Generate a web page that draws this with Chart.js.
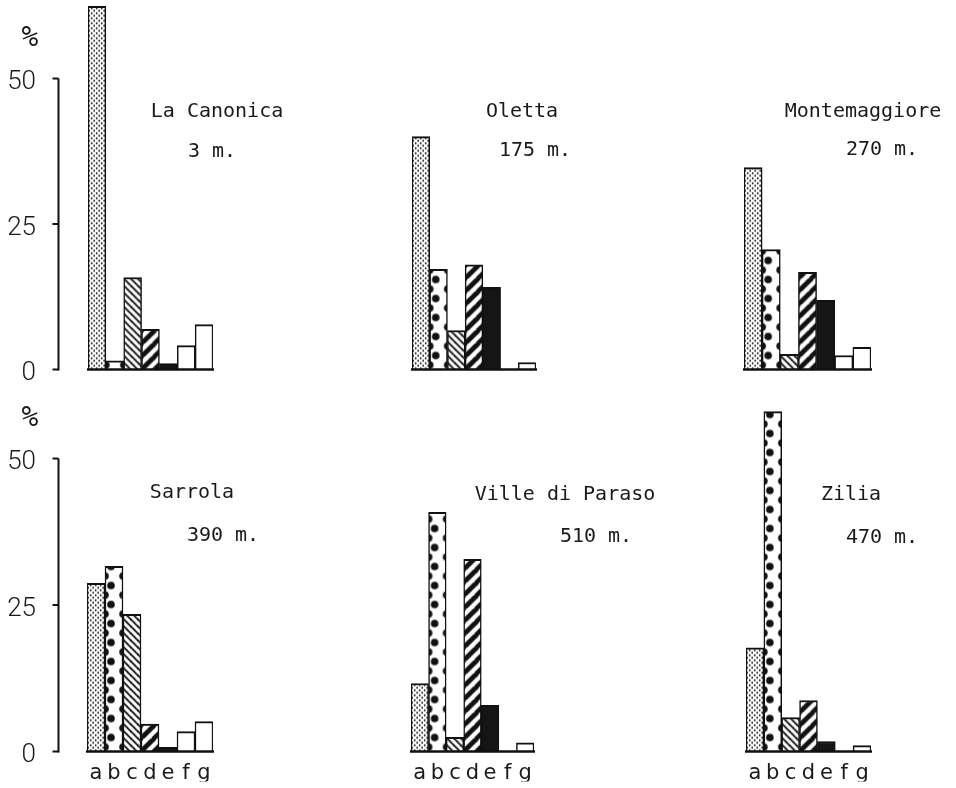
<!DOCTYPE html>
<html>
<head>
<meta charset="utf-8">
<script src="https://cdn.jsdelivr.net/npm/chart.js@4.4.1/dist/chart.umd.min.js"></script>
<style>
html, body { margin: 0; padding: 0; background: #fff; }
#wrap { position: relative; width: 956px; height: 788px; overflow: hidden; }
#wrap canvas { position: absolute; left: 0; top: 0; }
</style>
</head>
<body>
<div id="wrap"></div>
<script>
// datos (%)
const categorias = ['a', 'b', 'c', 'd', 'e', 'f', 'g'];
const laCanonica = [62.4, 1.5, 15.8, 6.9, 1.0, 4.1, 7.7];
const oletta = [40.0, 17.2, 6.7, 18.0, 14.1, 0, 1.2];
const montemaggiore = [34.7, 20.6, 2.6, 16.7, 11.9, 2.4, 3.8];
const sarrola = [28.7, 31.6, 23.4, 4.7, 0.7, 3.4, 5.1];
const villeDiParaso = [11.6, 40.8, 2.4, 32.8, 7.9, 0, 1.5];
const zilia = [17.7, 58.0, 5.8, 8.7, 1.7, 0, 1.0];

const sitios = ['La Canonica', 'Oletta', 'Montemaggiore', 'Sarrola', 'Ville di Paraso', 'Zilia'];
const altitudes = ['3 m.', '175 m.', '270 m.', '390 m.', '510 m.', '470 m.'];
const ticksY = [0, 25, 50];

// posicion de cada panel en la pagina
const paneles = [
  { datos: laCanonica, left: 88, right: 213, zero: 369.5, ppu: 5.82, max: 63, ejeY: true, etiquetasX: false, tit: [217, 112], alt: [212, 152] },
  { datos: oletta, left: 412, right: 536, zero: 369.5, ppu: 5.82, max: 63, ejeY: false, etiquetasX: false, tit: [522, 112], alt: [535, 151] },
  { datos: montemaggiore, left: 744, right: 871, zero: 369.5, ppu: 5.82, max: 63, ejeY: false, etiquetasX: false, tit: [863, 112], alt: [882, 150] },
  { datos: sarrola, left: 87, right: 213, zero: 751.5, ppu: 5.86, max: 60, ejeY: true, etiquetasX: true, tit: [192, 493], alt: [223, 536] },
  { datos: villeDiParaso, left: 411, right: 534, zero: 751.5, ppu: 5.86, max: 60, ejeY: false, etiquetasX: true, tit: [565, 495], alt: [596, 537] },
  { datos: zilia, left: 746, right: 871, zero: 751.5, ppu: 5.86, max: 60, ejeY: false, etiquetasX: true, tit: [851, 495], alt: [882, 538] }
];

function tile(w, h, dibujar) {
  const c = document.createElement('canvas');
  c.width = w; c.height = h;
  const g = c.getContext('2d');
  g.fillStyle = '#fff';
  g.fillRect(0, 0, w, h);
  g.fillStyle = '#111';
  g.strokeStyle = '#111';
  dibujar(g);
  return c;
}

function crearPatrones(ctx) {
  const punteado = tile(5, 5, g => {
    g.beginPath(); g.arc(1.2, 1.2, 0.95, 0, Math.PI * 2); g.fill();
    g.beginPath(); g.arc(3.7, 3.7, 0.95, 0, Math.PI * 2); g.fill();
  });
  const bolas = tile(18, 19, g => {
    [[6, 5], [18, 14.5], [0, 14.5], [6, 24], [6, -14]].forEach(([x, y]) => {
      g.beginPath(); g.arc(x, y, 3.8, 0, Math.PI * 2); g.fill();
    });
  });
  const rayaFina = tile(7, 7, g => {
    g.lineWidth = 1.9;
    [-7, 0, 7].forEach(o => { g.beginPath(); g.moveTo(o - 1, -1); g.lineTo(o + 8, 8); g.stroke(); });
  });
  const rayaGruesa = tile(13, 13, g => {
    g.lineWidth = 4.8;
    [-13, 0, 13].forEach(o => { g.beginPath(); g.moveTo(o - 1, 14); g.lineTo(o + 14, -1); g.stroke(); });
  });
  return [
    ctx.createPattern(punteado, 'repeat'),
    ctx.createPattern(bolas, 'repeat'),
    ctx.createPattern(rayaFina, 'repeat'),
    ctx.createPattern(rayaGruesa, 'repeat'),
    '#151515',
    '#ffffff',
    '#ffffff'
  ];
}

function crearPlugin(p, idx, patrones) {
  return {
    id: 'dibujo' + idx,
    beforeDatasetsDraw(chart) {
      const meta = chart.getDatasetMeta(0);
      const y0 = chart.scales.y.getPixelForValue(0);
      meta.data.forEach((el, i) => {
        const pat = patrones[i];
        if (pat && pat.setTransform) {
          pat.setTransform(new DOMMatrix([1, 0, 0, 1, el.x - el.width / 2, y0]));
        }
      });
    },
    afterDatasetsDraw(chart) {
      const ctx = chart.ctx;
      const meta = chart.getDatasetMeta(0);
      const ys = chart.scales.y;
      const y0 = ys.getPixelForValue(0);
      const primero = meta.data[0];
      const ultimo = meta.data[meta.data.length - 1];
      ctx.save();
      ctx.strokeStyle = '#111';
      ctx.lineWidth = 2.5;
      ctx.beginPath();
      ctx.moveTo(primero.x - primero.width / 2 - 1, y0);
      ctx.lineTo(ultimo.x + ultimo.width / 2 + 1, y0);
      ctx.stroke();

      if (p.ejeY) {
        const ejeX = 58.5;
        ctx.lineWidth = 2;
        ctx.beginPath();
        ctx.moveTo(ejeX, ys.getPixelForValue(50));
        ctx.lineTo(ejeX, y0 + 1);
        ctx.stroke();
        ctx.fillStyle = '#1a1a1a';
        ctx.font = '300 26px Roboto';
        ctx.textAlign = 'right';
        ctx.textBaseline = 'middle';
        ticksY.forEach(v => {
          const py = ys.getPixelForValue(v);
          ctx.beginPath();
          ctx.moveTo(ejeX - 6, py);
          ctx.lineTo(ejeX, py);
          ctx.stroke();
          ctx.fillText(String(v), 36, py + 4);
        });
        ctx.font = '28px "DejaVu Sans Mono"';
        ctx.textAlign = 'center';
        ctx.fillText('%', 30, ys.getPixelForValue(50) - 40);
      }

      ctx.fillStyle = '#1a1a1a';
      ctx.font = '20px "DejaVu Sans Mono"';
      ctx.textAlign = 'center';
      ctx.textBaseline = 'middle';
      ctx.fillText(sitios[idx], p.tit[0], p.tit[1]);
      ctx.fillText(altitudes[idx], p.alt[0], p.alt[1]);
      ctx.restore();
    }
  };
}

const wrap = document.getElementById('wrap');

paneles.forEach((p, idx) => {
  const canvas = document.createElement('canvas');
  canvas.width = 956;
  canvas.height = 788;
  wrap.appendChild(canvas);
  const patrones = crearPatrones(canvas.getContext('2d'));
  const altoX = p.etiquetasX ? 30 : 0;

  new Chart(canvas, {
    type: 'bar',
    data: {
      labels: categorias,
      datasets: [{
        data: p.datos,
        backgroundColor: patrones,
        borderColor: '#111',
        borderWidth: { top: 2, left: 1.5, right: 1.5, bottom: 0 },
        borderSkipped: 'start',
        barPercentage: 1,
        categoryPercentage: 1
      }]
    },
    options: {
      responsive: false,
      animation: false,
      events: [],
      layout: {
        padding: {
          left: p.left,
          right: 956 - p.right,
          top: p.zero - p.max * p.ppu,
          bottom: 788 - p.zero - altoX
        }
      },
      plugins: { legend: { display: false }, tooltip: { enabled: false } },
      scales: {
        x: {
          display: p.etiquetasX,
          grid: { display: false, drawTicks: false },
          border: { display: false },
          ticks: { font: { family: 'DejaVu Sans', size: 21 }, color: '#1a1a1a', padding: 9, maxRotation: 0, autoSkip: false },
          afterFit: s => { s.height = altoX; }
        },
        y: { display: false, min: 0, max: p.max }
      }
    },
    plugins: [crearPlugin(p, idx, patrones)]
  });
});
</script>
</body>
</html>
